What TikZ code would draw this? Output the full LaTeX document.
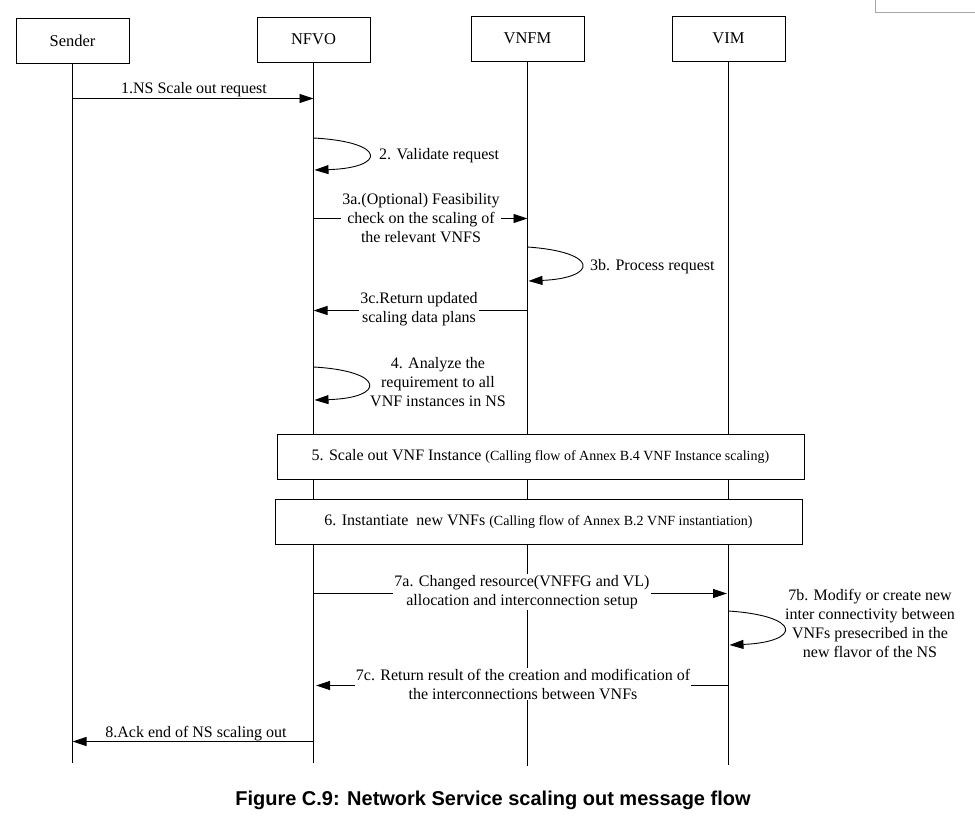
\documentclass[tikz,border=0pt]{standalone}
\usepackage{fontspec}
\setmainfont{Liberation Serif}
\newfontfamily\capfont{Liberation Sans}
\usetikzlibrary{arrows.meta}
\begin{document}
\begin{tikzpicture}[x=1pt,y=-1pt,
  actor/.style={draw,line width=0.9pt,minimum width=113pt,minimum height=45pt,font=\fontsize{16.5}{19}\selectfont},
  life/.style={line width=0.9pt},
  msg/.style={line width=0.9pt,-{Triangle[length=14pt,width=9pt]}},
  lbl/.style={font=\fontsize{16}{19}\selectfont,align=center,inner sep=1pt},
  wlbl/.style={lbl,fill=white},
  bigbox/.style={draw,fill=white,line width=0.9pt,minimum height=45pt}]
\useasboundingbox (0,0) rectangle (975,820);
\draw[fill=white,draw=gray!70] (875,-2) rectangle (978,12);
% actors
\node[actor] (sender) at (72.5,40.5) {Sender};
\node[actor] (nfvo) at (313.5,39.5) {NFVO};
\node[actor] (vnfm) at (527.5,38.5) {VNFM};
\node[actor] (vim) at (728.5,38.5) {VIM};
\coordinate (sEnd) at (72.5,763);
\coordinate (nEnd) at (313.5,763);
\coordinate (mEnd) at (527.5,766);
\coordinate (vEnd) at (728.5,765);
\draw[life] (sender.south) -- (sEnd);
\draw[life] (nfvo.south) -- (nEnd);
\draw[life] (vnfm.south) -- (mEnd);
\draw[life] (vim.south) -- (vEnd);
% 5 and 6
\node[bigbox,minimum width=527pt] (b5) at (540.5,456.5) {\fontsize{16}{19}\selectfont 5. Scale out VNF Instance {\fontsize{14}{16}\selectfont(Calling flow of Annex B.4 VNF Instance scaling)}};
\node[bigbox,minimum width=527pt] (b6) at (538.5,521.5) {\fontsize{16}{19}\selectfont 6. Instantiate\ \ new VNFs {\fontsize{14}{16}\selectfont(Calling flow of Annex B.2 VNF instantiation)}};
% message end points
\coordinate (m1a) at (72.5,98.5);  \coordinate (m1b) at (313.5,98.5);
\coordinate (m2a) at (313.5,138); \coordinate (m2b) at (314.5,170);
\coordinate (m3aa) at (313.5,218.5); \coordinate (m3ab) at (527.5,218.5);
\coordinate (m3ba) at (527.5,247); \coordinate (m3bb) at (528.5,281);
\coordinate (m3ca) at (527.5,310.5); \coordinate (m3cb) at (313.5,310.5);
\coordinate (m4a) at (313.5,367); \coordinate (m4b) at (314.5,400);
\coordinate (m7aa) at (313.5,593.5); \coordinate (m7ab) at (727,593.5);
\coordinate (m7ba) at (728.5,611); \coordinate (m7bb) at (729.5,645);
\coordinate (m7ca) at (728.5,685.5); \coordinate (m7cb) at (316,685.5);
\coordinate (m8a) at (313.5,741.5); \coordinate (m8b) at (72.5,741.5);
% messages
\draw[msg] (m1a) -- (m1b);
\node[lbl,anchor=base] (l1) at (194,93) {1.NS Scale out request};
\draw[msg] (m2a) .. controls (388,142) and (386,168) .. (m2b);
\node[lbl,anchor=base west] (l2) at (378,159) {2. Validate request};
\draw[msg] (m3aa) -- (m3ab);
\node[wlbl] (l3a) at (421,218) {3a.(Optional) Feasibility\\check on the scaling of\\the relevant VNFS};
\draw[msg] (m3ba) .. controls (600,252) and (598,278) .. (m3bb);
\node[lbl,anchor=base west] (l3b) at (589,270) {3b. Process request};
\draw[msg] (m3ca) -- (m3cb);
\node[wlbl] (l3c) at (419,309) {3c.Return updated\\scaling data plans};
\draw[msg] (m4a) .. controls (386,371) and (386,398) .. (m4b);
\node[lbl] (l4) at (438,382) {4. Analyze the\\requirement to all\\VNF instances in NS};
\draw[msg] (m7aa) -- (m7ab);
\node[wlbl] (l7a) at (522,592) {7a. Changed resource(VNFFG and VL)\\allocation and interconnection setup};
\draw[msg] (m7ba) .. controls (803,616) and (801,642) .. (m7bb);
\node[lbl] (l7b) at (870,623) {7b. Modify or create new\\inter connectivity between\\VNFs presecribed in the\\new flavor of the NS};
\draw[msg] (m7ca) -- (m7cb);
\node[wlbl] (l7c) at (523,684) {7c. Return result of the creation and modification of\\the interconnections between VNFs};
\draw[msg] (m8a) -- (m8b);
\node[lbl,anchor=base] (l8) at (196,737) {8.Ack end of NS scaling out};
% caption
\node[font=\capfont\bfseries\fontsize{20}{23}\selectfont] (cap) at (493,800) {Figure C.9: Network Service scaling out message flow};
\end{tikzpicture}
\end{document}
